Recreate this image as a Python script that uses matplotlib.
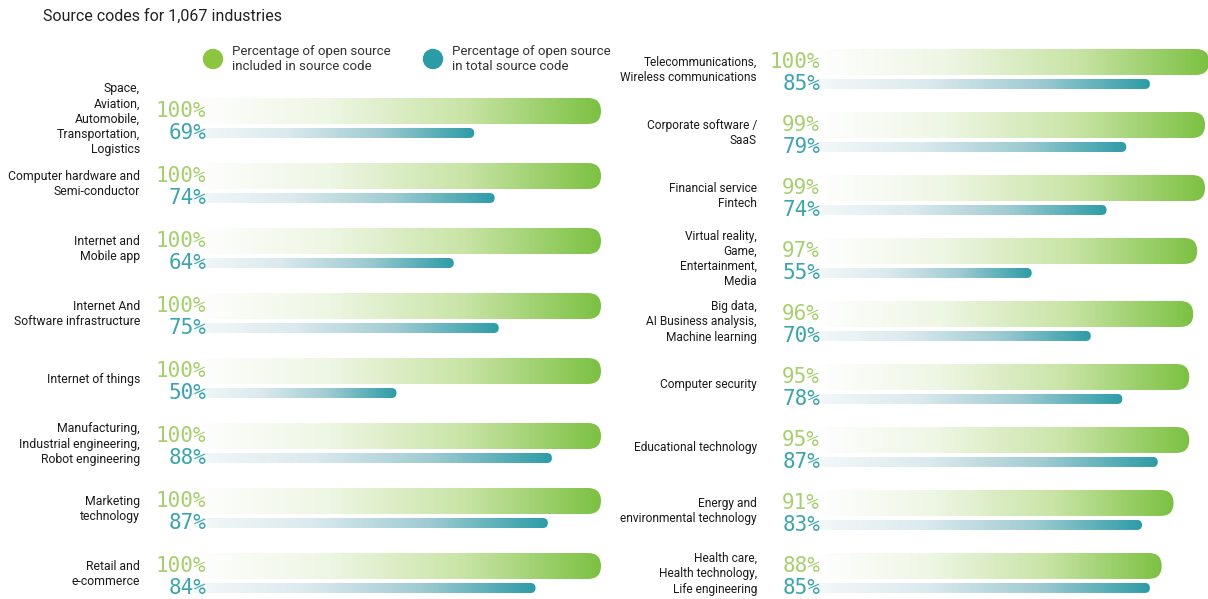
import numpy as np
import matplotlib
matplotlib.use("Agg")
import matplotlib.pyplot as plt
from matplotlib.patches import FancyBboxPatch, Ellipse
from matplotlib.colors import LinearSegmentedColormap
from matplotlib import transforms

plt.rcParams['font.family'] = ['Roboto', 'DejaVu Sans']

# data
left_labels = ["Space,\nAviation,\nAutomobile,\nTransportation,\nLogistics",
               "Computer hardware and\nSemi-conductor",
               "Internet and\nMobile app",
               "Internet And\nSoftware infrastructure",
               "Internet of things",
               "Manufacturing,\nIndustrial engineering,\nRobot engineering",
               "Marketing\ntechnology",
               "Retail and\ne-commerce"]
left_included = [100, 100, 100, 100, 100, 100, 100, 100]
left_total = [69, 74, 64, 75, 50, 88, 87, 84]

right_labels = ["Telecommunications,\nWireless communications",
                "Corporate software /\nSaaS",
                "Financial service\nFintech",
                "Virtual reality,\nGame,\nEntertainment,\nMedia",
                "Big data,\nAI Business analysis,\nMachine learning",
                "Computer security",
                "Educational technology",
                "Energy and\nenvironmental technology",
                "Health care,\nHealth technology,\nLife engineering"]
right_included = [100, 99, 99, 97, 96, 95, 95, 91, 88]
right_total = [85, 79, 74, 55, 70, 78, 87, 83, 85]

legend_labels = ["Percentage of open source\nincluded in source code",
                 "Percentage of open source\nin total source code"]

GREEN = "#8cc63f"
TEAL = "#2a9ca7"
GREEN_TXT = "#a5d06c"
TEAL_TXT = "#3aa5ae"
green_cmap = LinearSegmentedColormap.from_list(
    "g", ["#ffffff", "#eef6e4", "#c9e4a6", "#7cc142"], N=256)
teal_cmap = LinearSegmentedColormap.from_list(
    "t", ["#f4f8f9", "#dbeaee", "#9fcbd2", "#2d9ca7"], N=256)

W, H = 1208, 599
fig = plt.figure(figsize=(W / 100, H / 100), dpi=100)

# title and legend
fig.text(43 / W, 1 - 16 / H, "Source codes for 1,067 industries",
         fontsize=11.5, va="center", ha="left", color="#222222")
for cx, col, lab in [(213, GREEN, legend_labels[0]), (433, TEAL, legend_labels[1])]:
    fig.patches.append(Ellipse((cx / W, 1 - 59 / H), 19 / W, 19 / H, color=col,
                               transform=fig.transFigure, figure=fig))
    fig.text((cx + 19) / W, 1 - 59 / H, lab, fontsize=9.5, va="center",
             ha="left", color="#333333", linespacing=1.25)


def grad_bar(ax, y, val, h_px, ppx, ppy, cmap):
    h = h_px / ppy
    r = (h_px / 2) / ppx
    m = (h / 2) / r
    patch = FancyBboxPatch((0, y - h / 2), val, h,
                           boxstyle=f"round,pad=0,rounding_size={r}",
                           mutation_aspect=m, facecolor="none",
                           edgecolor="none", transform=ax.transData)
    ax.add_patch(patch)
    im = ax.imshow(np.linspace(0, 1, 256)[None, :], cmap=cmap, aspect="auto",
                   extent=[0, val, y + h / 2, y - h / 2], interpolation="bilinear")
    im.set_clip_path(patch)


def panel(x0, x100, top, bottom, ylim, labels, included, total,
          val_pad, lab_pad, lab_size):
    ax = fig.add_axes([x0 / W, 1 - bottom / H, (x100 - x0) / W, (bottom - top) / H])
    ax.set_xlim(0, 100)
    ax.set_ylim(*ylim)
    ax.axis("off")
    ppx = (x100 - x0) / 100
    ppy = (bottom - top) / (ylim[0] - ylim[1])
    off = 11 / ppy
    val_tr = transforms.offset_copy(ax.transData, fig=fig, x=val_pad, y=0, units="dots")
    lab_tr = transforms.offset_copy(ax.transData, fig=fig, x=-lab_pad, y=3, units="dots")
    for i, (lab, g, t) in enumerate(zip(labels, included, total)):
        grad_bar(ax, i - off, g, 26, ppx, ppy, green_cmap)
        grad_bar(ax, i + off, t, 10, ppx, ppy, teal_cmap)
        ax.text(0, i - off, f"{g}%", transform=val_tr, ha="right", va="center",
                fontsize=15, family="DejaVu Sans Mono", color=GREEN_TXT, zorder=5)
        ax.text(0, i + off, f"{t}%", transform=val_tr, ha="right", va="center",
                fontsize=15, family="DejaVu Sans Mono", color=TEAL_TXT, zorder=5)
        ax.text(0, i, lab, transform=lab_tr, ha="right", va="center",
                fontsize=lab_size, color="#1a1a1a", linespacing=1.22, clip_on=False)
    ax.set_xlim(0, 100)
    ax.set_ylim(*ylim)
    return ax


panel(192, 601, 83, 599.75, (7.35, -0.6), left_labels, left_included, left_total, 14, 52, 8.8)
panel(815, 1209, 35.2, 599, (8.35, -0.6), right_labels, right_included, right_total, 5, 58, 8.6)

fig.savefig("out.png", dpi=100)
